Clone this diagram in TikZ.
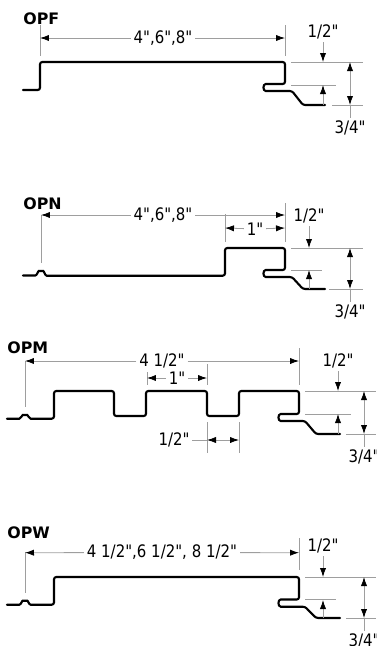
\documentclass[tikz,border=0pt]{standalone}
\usepackage{fontspec}
\newfontfamily\sizefont{DejaVu Sans}[FakeStretch=0.87]
\newfontfamily\namefont{DejaVu Sans Bold}
\usetikzlibrary{arrows.meta, calc}
\definecolor{dimgrey}{gray}{0.62}

\tikzset{
    profile/.style={black, line width=0.42mm, rounded corners=1.3pt, line cap=round},
    extline/.style={dimgrey, line width=0.16mm},
    dimline/.style={dimgrey, line width=0.16mm, {Latex[black, length=1.8mm, width=1.25mm]}-{Latex[black, length=1.8mm, width=1.25mm]}},
    oneway/.style={dimgrey, line width=0.16mm, -{Latex[black, length=1.8mm, width=1.25mm]}},
    panelname/.style={font=\fontsize{9}{10}\namefont, anchor=west, inner sep=0pt},
    sizelabel/.style={font=\fontsize{9.8}{10}\sizefont, inner sep=1.5pt},
}

\begin{document}
\begin{tikzpicture}[x=0.02cm, y=-0.02cm]
    \useasboundingbox (0,0) rectangle (376,646);
    \clip (0,0) rectangle (376,646);

    % OPF
    \node [panelname] (opfName) at (23,19) {OPF};
    \draw [profile] (23,90) -- (40,90) -- (40,62) -- (285,62) -- (285,84) -- (268,84)
        .. controls (262.7,84) and (262.7,91) .. (268,91) -- (292,91) -- (303,105) -- (325,105);
    \coordinate (opfL) at (40,38);
    \coordinate (opfR) at (285,38);
    \node [sizelabel] (opfWidth) at (163,38) {4",6",8"};
    \draw [extline] (40,25) -- (40,56);
    \draw [extline] (285,25) -- (285,56);
    \draw [oneway] (opfWidth) -- (opfL);
    \draw [oneway] (opfWidth) -- (opfR);
    \draw [extline] (291,62) -- (363,62);
    \draw [extline] (291,85) -- (336,85);
    \draw [extline] (332,105) -- (363,105);
    \node [sizelabel] (opfHalf) at (323,32) {1/2"};
    \node [sizelabel] (opfDepth) at (350,128) {3/4"};
    \coordinate (opfTop) at (350,62);
    \coordinate (opfBot) at (350,105);
    \draw [dimline] (opfTop) -- (opfBot);
    \draw [extline] (opfBot) -- (opfDepth);
    \draw [oneway] (opfHalf) -- (323,62);
    \draw [oneway] (323,105) -- (323,85);

    % OPN
    \node [panelname] (opnName) at (23,204) {OPN};
    \draw [profile] (23,275.5) -- (33,275.5) .. controls (37,275.5) and (38,271) .. (41,271)
        .. controls (44,271) and (45,275.7) .. (49,275.7) -- (225,275.7) -- (225,248) -- (285,248) -- (285,270) -- (268,270)
        .. controls (262.7,270) and (262.7,277) .. (268,277) -- (292,277) -- (303,289) -- (325,289);
    \coordinate (opnL) at (41,215);
    \coordinate (opnR) at (285,215);
    \node [sizelabel] (opnWidth) at (163,215) {4",6",8"};
    \draw [extline] (41,215) -- (41,263);
    \draw [extline] (285,203) -- (285,242);
    \draw [extline] (225,214) -- (225,242);
    \draw [oneway] (opnWidth) -- (opnL);
    \draw [oneway] (opnWidth) -- (opnR);
    \coordinate (opnStepL) at (225,228);
    \coordinate (opnStepR) at (285,228);
    \node [sizelabel] (opnStep) at (255,229) {1"};
    \draw [oneway] (opnStep) -- (opnStepL);
    \draw [oneway] (opnStep) -- (opnStepR);
    \draw [extline] (291,248) -- (363,248);
    \draw [extline] (291,270) -- (322,270);
    \draw [extline] (329,289) -- (363,289);
    \node [sizelabel] (opnHalf) at (309,216) {1/2"};
    \node [sizelabel] (opnDepth) at (350,312) {3/4"};
    \coordinate (opnTop) at (350,248);
    \coordinate (opnBot) at (350,289);
    \draw [dimline] (opnTop) -- (opnBot);
    \draw [extline] (opnBot) -- (opnDepth);
    \draw [oneway] (opnHalf) -- (309,248);
    \draw [oneway] (309,289) -- (309,270);

    % OPM
    \node [panelname] (opmName) at (7,348) {OPM};
    \draw [profile] (7,418.7) -- (17,418.7) .. controls (21,418.7) and (22,415) .. (25,415)
        .. controls (28,415) and (29,418.7) .. (33,418.7) -- (54,418.7) -- (54,391) -- (114,391) -- (114,416) -- (146,416)
        -- (146,391) -- (207,391) -- (207,416) -- (239,416) -- (239,391) -- (299,391) -- (299,414) -- (283,414)
        .. controls (277.7,414) and (277.7,421) .. (283,421) -- (305,421) -- (316,434) -- (340,434);
    \coordinate (opmL) at (25,361);
    \coordinate (opmR) at (299,361);
    \node [sizelabel] (opmWidth) at (162,361) {4 1/2"};
    \draw [extline] (25,361) -- (25,407);
    \draw [extline] (299,348) -- (299,385);
    \draw [oneway] (opmWidth) -- (opmL);
    \draw [oneway] (opmWidth) -- (opmR);
    \coordinate (opmRibL) at (147,378);
    \coordinate (opmRibR) at (207,378);
    \node [sizelabel] (opmRib) at (177,378) {1"};
    \draw [extline] (147,372) -- (147,385);
    \draw [extline] (207,364) -- (207,385);
    \draw [oneway] (opmRib) -- (opmRibL);
    \draw [oneway] (opmRib) -- (opmRibR);
    \coordinate (opmGapL) at (207,440);
    \coordinate (opmGapR) at (239,440);
    \node [sizelabel] (opmGap) at (174,440) {1/2"};
    \draw [extline] (207,422) -- (207,453);
    \draw [extline] (239,422) -- (239,453);
    \draw [extline] (opmGap) -- (opmGapL);
    \draw [dimline] (opmGapL) -- (opmGapR);
    \draw [extline] (305,391) -- (376,391);
    \draw [extline] (305,414) -- (351,414);
    \draw [extline] (346,434) -- (376,434);
    \node [sizelabel] (opmHalf) at (338,361) {1/2"};
    \node [sizelabel] (opmDepth) at (364,457) {3/4"};
    \coordinate (opmTop) at (364,391);
    \coordinate (opmBot) at (364,434);
    \draw [dimline] (opmTop) -- (opmBot);
    \draw [extline] (opmBot) -- (opmDepth);
    \draw [oneway] (opmHalf) -- (338,391);
    \draw [oneway] (338,434) -- (338,414);

    % OPW
    \node [panelname] (opwName) at (7,533) {OPW};
    \draw [profile] (7,604.7) -- (17,604.7) .. controls (21,604.7) and (22,600.7) .. (25,600.7)
        .. controls (28,600.7) and (29,604.7) .. (33,604.7) -- (54,604.7) -- (54,577) -- (299,577) -- (299,599.5) -- (283,599.5)
        .. controls (277.7,599.5) and (277.7,606.7) .. (283,606.7) -- (305,606.7) -- (316,618) -- (340,618);
    \coordinate (opwL) at (25,552.7);
    \coordinate (opwR) at (299,552.7);
    \node [sizelabel] (opwWidth) at (162,552.5) {4 1/2",6 1/2", 8 1/2"};
    \draw [extline] (25,552) -- (25,593);
    \draw [extline] (299,538) -- (299,570);
    \draw [oneway] (opwWidth) -- (opwL);
    \draw [oneway] (opwWidth) -- (opwR);
    \draw [extline] (305,577) -- (376,577);
    \draw [extline] (305,599.5) -- (336,599.5);
    \draw [extline] (346,618) -- (376,618);
    \node [sizelabel] (opwHalf) at (323,546) {1/2"};
    \node [sizelabel] (opwDepth) at (364,641) {3/4"};
    \coordinate (opwTop) at (364,577);
    \coordinate (opwBot) at (364,618);
    \draw [dimline] (opwTop) -- (opwBot);
    \draw [extline] (opwBot) -- (opwDepth);
    \draw [oneway] (opwHalf) -- (323,577);
    \draw [oneway] (323,618) -- (323,600);
\end{tikzpicture}
\end{document}
